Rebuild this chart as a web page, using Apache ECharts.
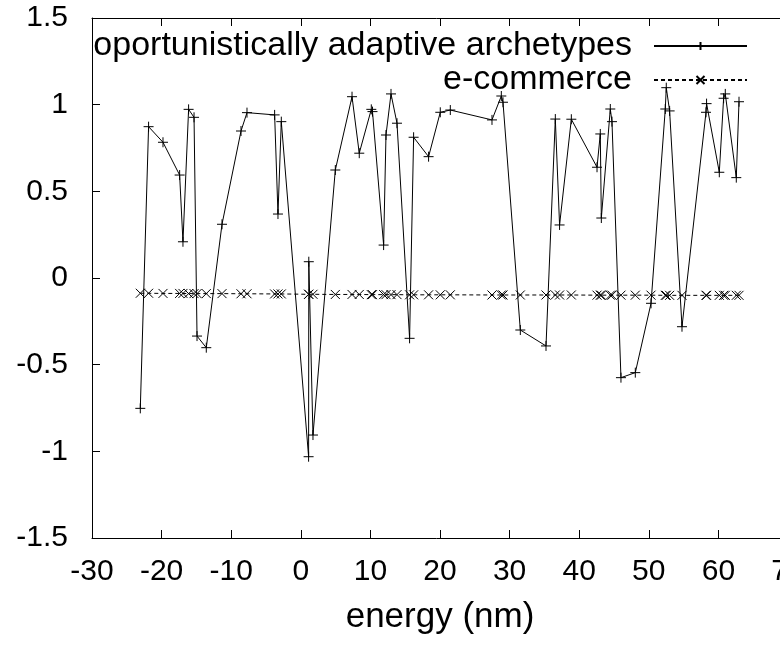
<!DOCTYPE html>
<html>
<head>
<meta charset="utf-8">
<script src="https://cdn.jsdelivr.net/npm/echarts@6/dist/echarts.min.js"></script>
<style>
html,body{margin:0;padding:0;background:#fff;}
#c{width:780px;height:648px;}
</style>
</head>
<body>
<div id="c"></div>
<script>
// shared x positions (energy, nm)
var energy = [-23.06, -21.87, -19.8, -17.41, -16.93, -16.12, -15.34, -14.91, -13.58, -11.32,
  -8.59, -7.73, -3.76, -3.28, -2.8, 1.12, 1.15, 1.75, 4.96, 7.36,
  8.4, 10.13, 10.3, 11.9, 12.24, 12.96, 13.82, 15.63, 16.21, 18.36,
  20.04, 21.48, 27.47, 28.81, 29.05, 31.54, 35.23, 36.57, 37.18, 38.87,
  42.56, 43.03, 43.18, 44.47, 44.71, 46.0, 48.06, 50.32, 52.37, 52.51,
  52.99, 54.77, 58.22, 58.3, 60.13, 60.75, 60.99, 62.57, 62.96];
var archetypes = [-0.752, 0.873, 0.783, 0.594, 0.209, 0.973, 0.927, -0.335, -0.402, 0.31,
  0.848, 0.954, 0.941, 0.369, 0.902, -1.031, 0.094, -0.906, 0.623, 1.046,
  0.72, 0.973, 0.96, 0.19, 0.825, 1.062, 0.893, -0.348, 0.812, 0.7,
  0.956, 0.969, 0.912, 1.05, 1.014, -0.3, -0.392, 0.917, 0.306, 0.916,
  0.639, 0.831, 0.346, 0.975, 0.902, -0.575, -0.546, -0.146, 0.975, 1.098,
  0.964, -0.281, 0.956, 1.006, 0.61, 1.037, 1.062, 0.579, 1.017];
var ecommerce = [-0.088, -0.088, -0.089, -0.089, -0.089, -0.09, -0.09, -0.09, -0.09, -0.09,
  -0.091, -0.091, -0.092, -0.092, -0.092, -0.094, -0.094, -0.094, -0.095, -0.095,
  -0.095, -0.096, -0.096, -0.096, -0.096, -0.096, -0.096, -0.097, -0.097, -0.097,
  -0.097, -0.097, -0.098, -0.098, -0.098, -0.098, -0.098, -0.098, -0.098, -0.098,
  -0.099, -0.099, -0.099, -0.099, -0.099, -0.099, -0.099, -0.099, -0.1, -0.1,
  -0.1, -0.1, -0.1, -0.1, -0.1, -0.1, -0.1, -0.1, -0.1];
var seriesNames = ['oportunistically adaptive archetypes', 'e-commerce'];
var xTitle = 'energy (nm)';

function pairs(xs, ys) { return xs.map(function (x, i) { return [x, ys[i]]; }); }

var FONT = 'Liberation Sans, Arial, Helvetica, sans-serif';
var plusPath = 'path://M0,5L10,5M5,0L5,10';
var crossPath = 'path://M0,0L10,10M0,10L10,0';

var chart = echarts.init(document.getElementById('c'), null, {renderer: 'canvas'});
var axisLine = {show: true, onZero: false, lineStyle: {color: '#000', width: 1}};
var tickIn = {show: true, inside: true, length: 8, lineStyle: {color: '#000', width: 1}};
chart.setOption({
  animation: false,
  backgroundColor: '#fff',
  grid: {left: 92, top: 18, width: 696, height: 520, containLabel: false, outerBoundsMode: 'none'},
  legend: {
    orient: 'vertical', align: 'right', right: 27, top: 24,
    itemWidth: 93, itemHeight: 10, itemGap: 0,
    textStyle: {fontFamily: FONT, fontSize: 34, lineHeight: 32, color: '#000', padding: [0, 17, 0, 0]},
    data: seriesNames
  },
  xAxis: [{
    type: 'value', min: -30, max: 70, interval: 10, position: 'bottom',
    name: xTitle, nameLocation: 'middle', nameGap: 62,
    nameTextStyle: {fontFamily: FONT, fontSize: 35, color: '#000'},
    axisLine: axisLine, axisTick: tickIn, splitLine: {show: false},
    axisLabel: {fontFamily: FONT, fontSize: 30, color: '#000', margin: 19, showMinLabel: true, showMaxLabel: true}
  }, {
    type: 'value', min: -30, max: 70, interval: 10, position: 'top',
    axisLine: axisLine, axisTick: tickIn, splitLine: {show: false}, axisLabel: {show: false}
  }],
  yAxis: [{
    type: 'value', min: -1.5, max: 1.5, interval: 0.5, position: 'left',
    axisLine: axisLine, axisTick: tickIn, splitLine: {show: false},
    axisLabel: {fontFamily: FONT, fontSize: 30, color: '#000', margin: 24, showMinLabel: true, showMaxLabel: true}
  }, {
    type: 'value', min: -1.5, max: 1.5, interval: 0.5, position: 'right',
    axisLine: axisLine, axisTick: tickIn, splitLine: {show: false}, axisLabel: {show: false}
  }],
  series: [{
    name: seriesNames[0], type: 'line', xAxisIndex: 0, yAxisIndex: 0,
    data: pairs(energy, archetypes),
    color: '#000',
    symbol: plusPath, symbolSize: 10, showSymbol: true,
    itemStyle: {color: 'rgba(0,0,0,0)', borderColor: '#000', borderWidth: 1},
    lineStyle: {color: '#000', width: 1, type: 'solid'},
    emphasis: {disabled: true}
  }, {
    name: seriesNames[1], type: 'line', xAxisIndex: 0, yAxisIndex: 0,
    data: pairs(energy, ecommerce),
    color: '#000',
    symbol: crossPath, symbolSize: 9, showSymbol: true,
    itemStyle: {color: 'rgba(0,0,0,0)', borderColor: '#000', borderWidth: 1},
    lineStyle: {color: '#000', width: 1, type: [4, 3]},
    emphasis: {disabled: true}
  }]
});
</script>
</body>
</html>
